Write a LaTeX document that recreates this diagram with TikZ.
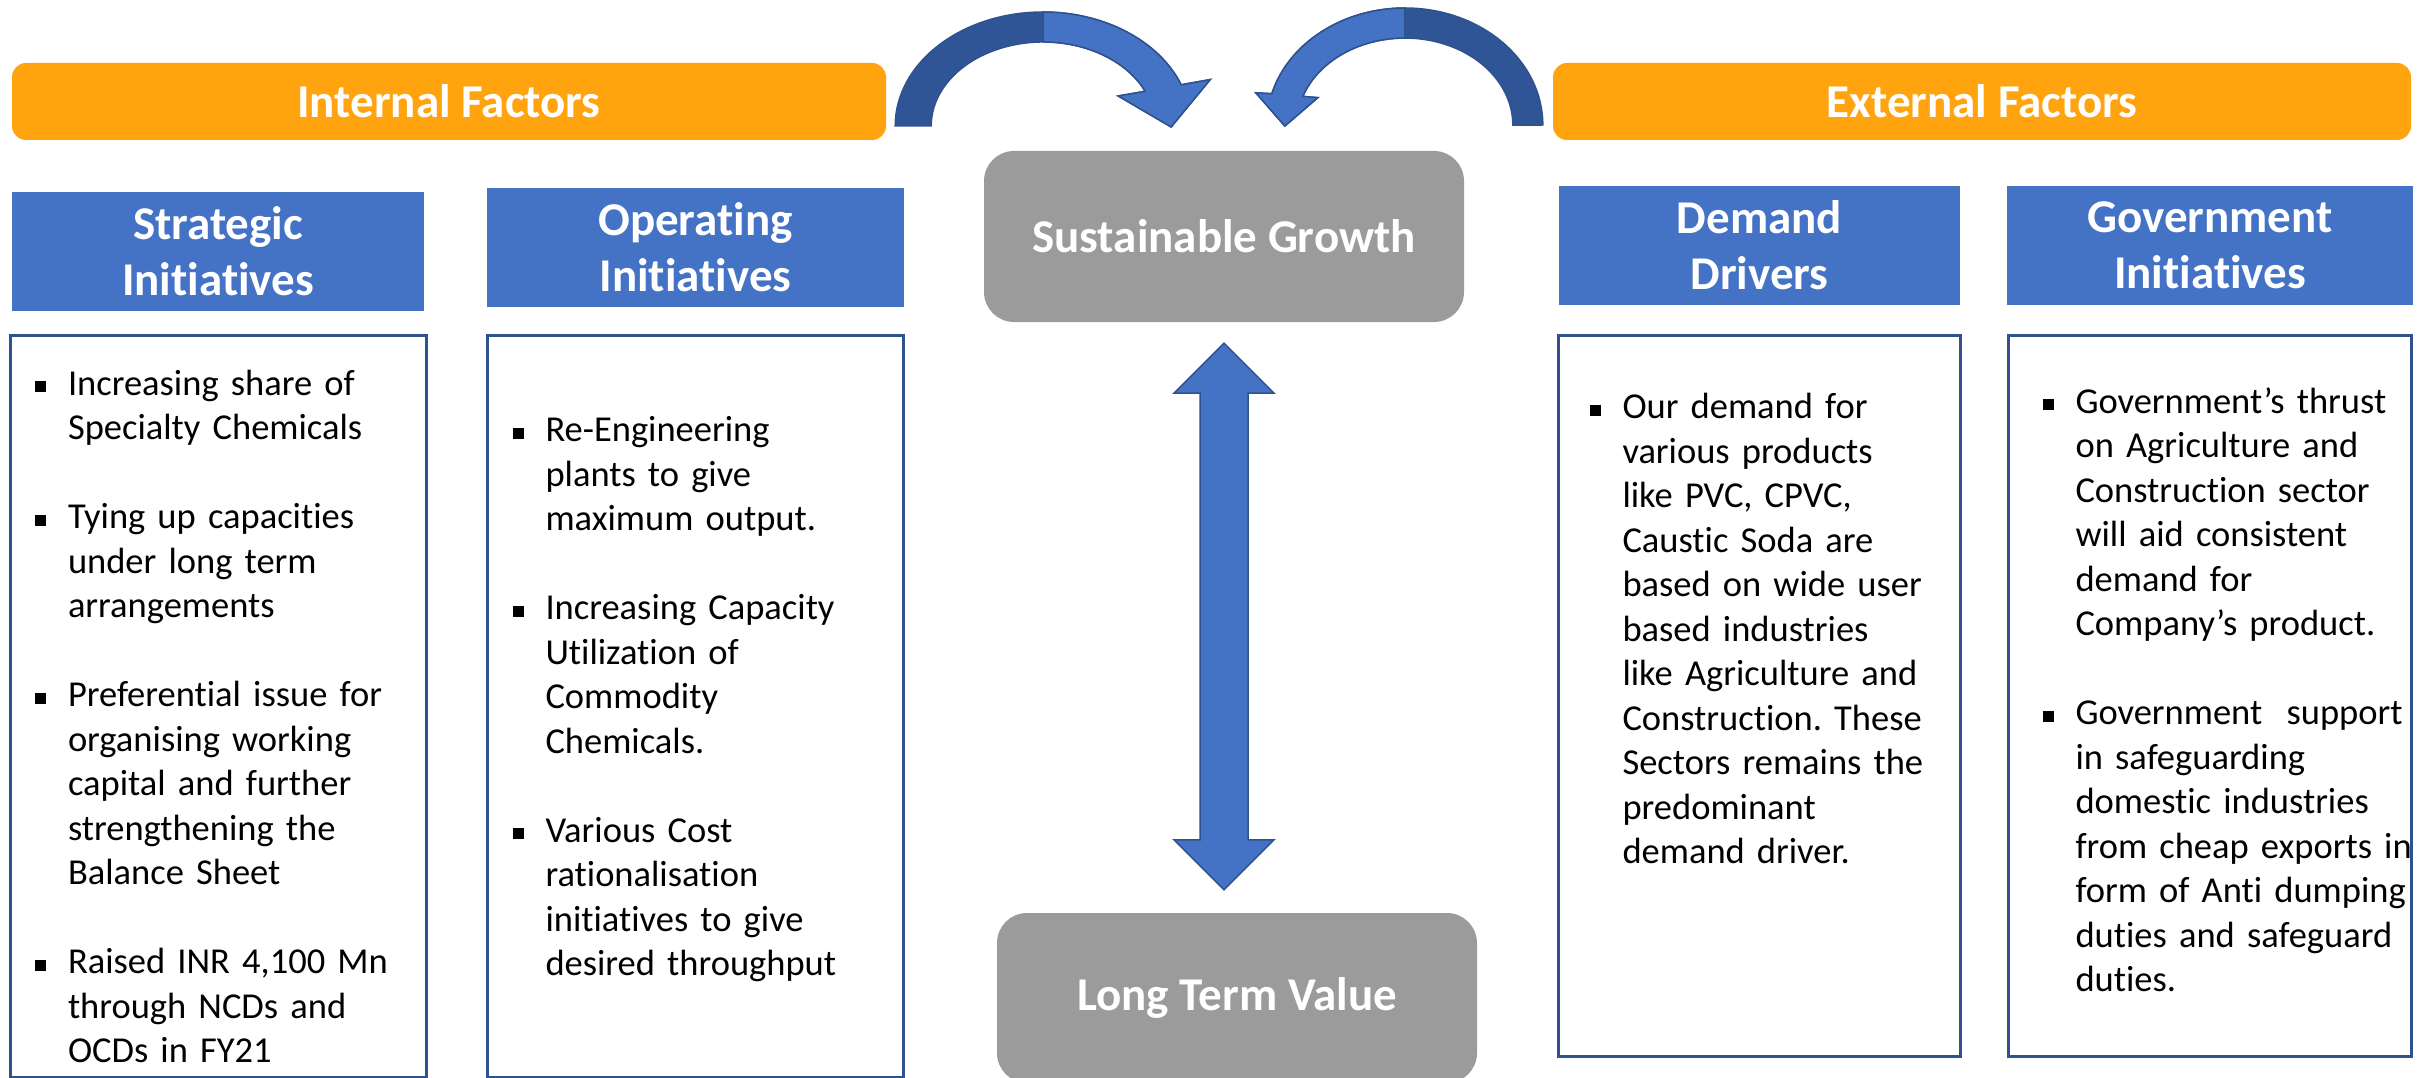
\documentclass[tikz,border=0pt]{standalone}
\usepackage{fontspec}
\setmainfont{Carlito}[Ligatures=NoCommon]
\usetikzlibrary{positioning, calc}

\definecolor{barorange}{RGB}{255,163,15}
\definecolor{headblue}{RGB}{68,114,196}
\definecolor{edgeblue}{RGB}{47,82,143}
\definecolor{darkblue}{RGB}{47,85,151}
\definecolor{goalgray}{RGB}{155,155,155}

\newcommand{\sqitem}{\par\noindent\hangindent=33pt\hangafter=1\makebox[33pt][l]{\rule[3pt]{11pt}{11pt}}}
\newcommand{\itemgap}{\par\vspace{44.5pt}}
\newcommand{\tailgap}[1]{\par\vspace{#1}\noindent\mbox{}}
\frenchspacing

\begin{document}
\begin{tikzpicture}[
    x=1pt, y=-1pt,
    factorbar/.style={fill=barorange, rounded corners=14pt, minimum width=#1, minimum height=77pt, text=white, font=\fontsize{47pt}{56pt}\selectfont\bfseries},
    headbox/.style={fill=headblue, minimum width=#1, minimum height=119pt, align=center, text=white, font=\fontsize{47pt}{56pt}\selectfont\bfseries},
    textbox/.style 2 args={draw=edgeblue, line width=3pt, fill=white, inner xsep=0pt, text width=#1, minimum height=742pt, font=\fontsize{36.5pt}{44.5pt}\selectfont, execute at begin node={\leftskip=#2\rightskip=0pt minus 40pt\relax}},
    goalbox/.style={fill=goalgray, rounded corners=30pt, minimum width=480pt, minimum height=171pt, text=white, font=\fontsize{47pt}{56pt}\selectfont\bfseries},
    bigarrow/.style={fill=headblue, draw=edgeblue, line width=1.5pt, line join=miter},
    backarrow/.style={fill=darkblue, draw=edgeblue, line width=1.5pt, line join=miter}
]

    \path[use as bounding box, fill=white] (0,0) rectangle (2425,1078);

    % Factor bars
    \node[factorbar=874pt] (intBar) at (449,101.5) {Internal Factors};
    \node[factorbar=858pt] (extBar) at (1982,101.5) {External Factors};

    % Headers
    \node[headbox=412pt] (stratHead) at (218,251.5) {Strategic\\Initiatives};
    \node[headbox=417pt] (operHead) at (695.5,247.5) {Operating\\Initiatives};
    \node[headbox=401pt] (demHead) at (1759.5,245.5) {Demand\\Drivers};
    \node[headbox=406pt] (govHead) at (2210,245.5) {Government\\Initiatives};

    % Bullet boxes
    \node[textbox={416pt}{25pt}, below=23pt of stratHead] (stratBox) {%
        \sqitem Increasing share of\newline Specialty Chemicals\itemgap
        \sqitem Tying up capacities\newline under long term\newline arrangements\itemgap
        \sqitem Preferential issue for\newline organising working\newline capital and further\newline strengthening the\newline Balance Sheet\itemgap
        \sqitem Raised INR 4,100 Mn\newline through NCDs and\newline OCDs in FY21\par};
    \node[textbox={416pt}{25pt}, below=27pt of operHead] (operBox) {%
        \sqitem Re-Engineering\newline plants to give\newline maximum output.\itemgap
        \sqitem Increasing Capacity\newline Utilization of\newline Commodity\newline Chemicals.\itemgap
        \sqitem Various Cost\newline rationalisation\newline initiatives to give\newline desired throughput\tailgap{-4.5pt}};
    \node[textbox={402pt}{31pt}, minimum height=721pt, below=29pt of demHead] (demBox) {%
        \sqitem Our demand for\newline various products\newline like PVC, CPVC,\newline Caustic Soda are\newline based on wide user\newline based industries\newline like Agriculture and\newline Construction. These\newline Sectors remains the\newline predominant\newline demand driver.\tailgap{109.5pt}};
    \node[textbox={403pt}{34pt}, minimum height=721pt, below=29pt of govHead] (govBox) {%
        \sqitem Government’s thrust\newline on Agriculture and\newline Construction sector\newline will aid consistent\newline demand for\newline Company’s product.\itemgap
        \sqitem Government\ \ support\newline in safeguarding\newline domestic industries\newline from cheap exports in\newline form of Anti dumping\newline duties and safeguard\newline duties.\tailgap{-12.5pt}};

    % Growth and value
    \node[goalbox] (growth) at (1224,236.5) {Sustainable Growth};
    \node[goalbox, minimum height=170pt] (value) at (1237,998) {Long Term Value};

    % Two-way arrow
    \coordinate (arrTop) at ($(growth.south)+(0,21)$);
    \coordinate (arrBot) at ($(arrTop |- value.north)+(0,-23)$);
    \draw[bigarrow] (arrTop) -- ++(50,50) -- ++(-26,0) -- ($(arrBot)+(24,-50)$) -- ++(26,0) -- (arrBot)
        -- ++(-50,-50) -- ++(26,0) -- ($(arrTop)+(-24,50)$) -- ++(-26,0) -- cycle;

    % Curved arrow, internal side
    \coordinate (lBase) at ($(intBar.east)+(9,24.5)$);
    \coordinate (lTop) at ($(lBase)+(148,-114)$);
    \draw[backarrow] (lBase) arc[start angle=180, end angle=21.2, x radius=148pt, y radius=114pt]
        -- ++(29,-5.2) -- ++(-39,47.4) -- ++(-53,-31) -- ++(27,-4.7)
        arc[start angle=24.4, end angle=180, x radius=112pt, y radius=84pt] -- cycle;
    \draw[bigarrow] (lTop) arc[start angle=90, end angle=21.2, x radius=148pt, y radius=114pt]
        -- ++(29,-5.2) -- ++(-39,47.4) -- ++(-53,-31) -- ++(27,-4.7)
        arc[start angle=24.4, end angle=90, x radius=112pt, y radius=84pt] -- cycle;

    % Curved arrow, external side
    \coordinate (rBase) at ($(extBar.west)+(-10,23.5)$);
    \coordinate (rTop) at ($(rBase)+(-138,-117)$);
    \draw[backarrow] (rBase) arc[start angle=0, end angle=164.5, x radius=138pt, y radius=117pt]
        -- ++(-16,-0.9) -- ++(29,33.2) -- ++(33,-28.4) -- ++(-15,-1.2)
        arc[start angle=160.8, end angle=0, x radius=108pt, y radius=87pt] -- cycle;
    \draw[bigarrow] (rTop) arc[start angle=90, end angle=164.5, x radius=138pt, y radius=117pt]
        -- ++(-16,-0.9) -- ++(29,33.2) -- ++(33,-28.4) -- ++(-15,-1.2)
        arc[start angle=160.8, end angle=90, x radius=108pt, y radius=87pt] -- cycle;

\end{tikzpicture}
\end{document}
